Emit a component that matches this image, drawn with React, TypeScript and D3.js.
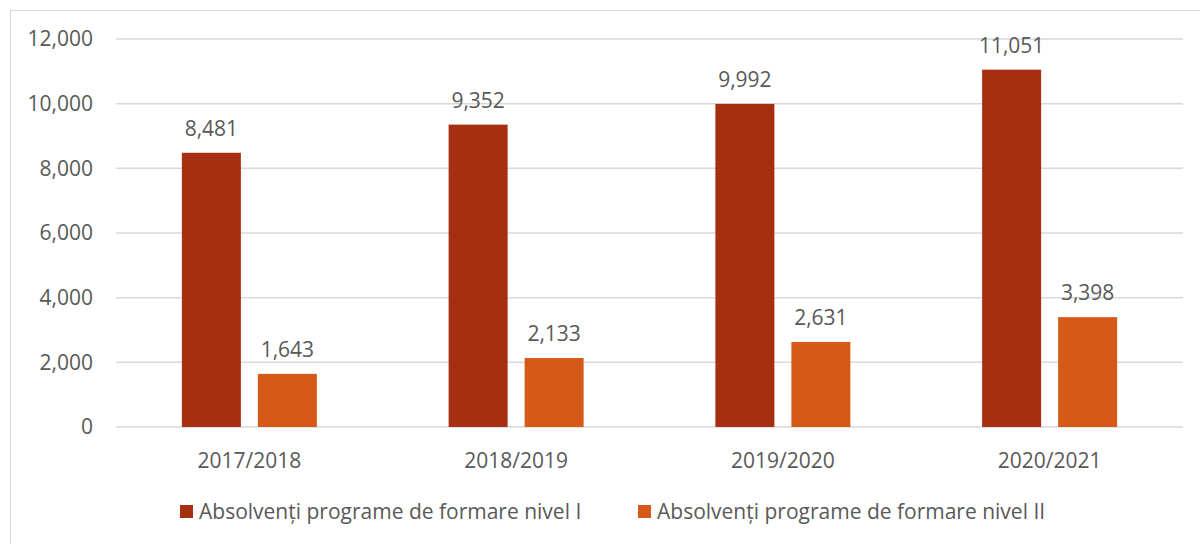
import React from "react";
import * as d3 from "d3";

const categories = ["2017/2018", "2018/2019", "2019/2020", "2020/2021"];
const seriesNames = [
  "Absolvenți programe de formare nivel I",
  "Absolvenți programe de formare nivel II",
];
const nivelI = [8481, 9352, 9992, 11051];
const nivelII = [1643, 2133, 2631, 3398];
const yTicks = [0, 2000, 4000, 6000, 8000, 10000, 12000];
const colors = ["#A52F10", "#D65A17"];

export default function App() {
  const W = 1200, H = 544;
  const left = 116, right = 1183, top = 39, bottom = 427;
  const font = "'Open Sans', sans-serif";
  const fs = 21;
  const textColor = "#595959";
  const x = d3.scaleBand<string>().domain(categories).range([left, right]);
  const y = d3.scaleLinear().domain([0, 12000]).range([bottom, top]);
  const fmt = d3.format(",");
  const barW = 59, gap = 17;
  const series = [nivelI, nivelII];

  return (
    <svg width={W} height={H} style={{ position: "absolute", left: 0, top: 0 }}>
      <rect x={0} y={0} width={W} height={H} fill="#fff" />
      <rect x={10.5} y={10.5} width={1200} height={560} fill="none" stroke="#D9D9D9" strokeWidth={1} />
      {yTicks.map((t) => (
        <g key={t}>
          <line x1={left} x2={right} y1={y(t)} y2={y(t)} stroke="#D9D9D9" strokeWidth={1.5} />
          <text x={93} y={y(t)} dy="0.35em" textAnchor="end" fontFamily={font} fontSize={fs} fill={textColor}>
            {fmt(t)}
          </text>
        </g>
      ))}
      {categories.map((c, i) => {
        const cx = x(c)! + x.bandwidth() / 2;
        return (
          <g key={c}>
            {series.map((s, j) => {
              const bx = cx - gap / 2 - barW + j * (barW + gap);
              return (
                <g key={j}>
                  <rect x={bx} y={y(s[i])} width={barW} height={bottom - y(s[i])} fill={colors[j]} />
                  <text x={bx + barW / 2} y={y(s[i]) - 24} dy="0.35em" textAnchor="middle" fontFamily={font} fontSize={fs} fill={textColor}>
                    {fmt(s[i])}
                  </text>
                </g>
              );
            })}
            <text x={cx} y={461} dy="0.35em" textAnchor="middle" fontFamily={font} fontSize={fs} fill={textColor}>
              {c}
            </text>
          </g>
        );
      })}
      {seriesNames.map((n, j) => {
        const lx = j === 0 ? 180 : 638;
        return (
          <g key={n}>
            <rect x={lx} y={505} width={13} height={13} fill={colors[j]} />
            <text x={lx + 19} y={512} dy="0.35em" fontFamily={font} fontSize={fs} fill={textColor}>
              {n}
            </text>
          </g>
        );
      })}
    </svg>
  );
}
